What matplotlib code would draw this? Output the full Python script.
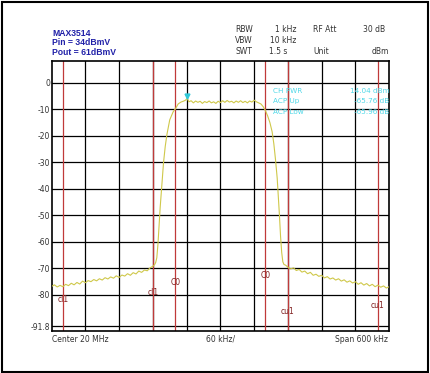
import matplotlib
matplotlib.use('Agg')
import matplotlib.pyplot as plt
from matplotlib.patches import Rectangle

# frequency offset from 20 MHz centre (kHz) and measured level (dBm)
left_freq = [-300, -295, -290, -285, -280, -275, -270, -265, -260, -255, -250, -245,
             -240, -235, -230, -225, -220, -215, -210, -205, -200, -195, -190, -185,
             -180, -175, -170, -165, -160, -155, -150, -145, -140, -135, -130, -125,
             -120, -117, -115, -113, -111]
left_level = [-76.8, -76.2, -77.0, -76.4, -76.9, -76.0, -76.5, -75.6, -76.2, -75.3, -75.9, -74.8,
              -75.4, -74.6, -75.0, -74.2, -74.7, -73.9, -74.4, -73.5, -74.0, -73.2, -73.7, -72.8,
              -73.4, -72.5, -72.9, -72.0, -72.6, -71.6, -72.1, -71.0, -71.5, -70.6, -70.9, -69.8,
              -69.2, -68.6, -67.8, -66.0, -61.0]
rise_freq = [-109, -107, -104.6, -101, -98, -95, -90, -84, -79, -75, -70]
rise_level = [-54.0, -47.0, -40.0, -30.0, -24.0, -19.5, -14.0, -11.0, -9.5, -8.0, -7.3]
top_freq = [-66, -62, -59, -56, -52, -48, -44, -40, -36, -32, -28, -24, -20, -16, -12, -8,
            -4, 0, 4, 8, 12, 16, 20, 24, 28, 32, 36, 40, 44, 48, 52, 56, 60, 64, 68]
top_level = [-7.0, -6.6, -5.9, -7.2, -6.8, -7.6, -6.9, -7.4, -7.0, -7.8, -7.1, -7.5, -6.9, -7.6,
             -7.2, -7.8, -7.0, -7.5, -6.8, -7.4, -6.7, -7.3, -7.0, -7.6, -6.9, -7.4, -6.8, -7.5,
             -7.0, -7.6, -6.9, -7.3, -6.6, -7.2, -7.6]
fall_freq = [72, 76, 80, 84, 88, 92, 95, 98, 101, 103, 105, 107, 109, 111, 113, 116, 120]
fall_level = [-8.0, -9.0, -10.5, -12.5, -15.0, -18.5, -23.0, -29.0, -36.0, -43.0, -50.0, -58.0,
              -64.0, -67.5, -68.5, -68.8, -69.5]
right_freq = [125, 130, 135, 140, 145, 150, 155, 160, 165, 170, 175, 180, 185, 190, 195, 200,
              205, 210, 215, 220, 225, 230, 235, 240, 245, 250, 255, 260, 265, 270, 275, 280,
              285, 290, 295, 300]
right_level = [-70.2, -69.8, -70.8, -70.4, -71.4, -71.0, -72.0, -71.5, -72.6, -72.2, -73.0, -72.6,
               -73.6, -73.1, -74.0, -73.6, -74.4, -73.9, -74.8, -74.3, -75.2, -74.7, -75.5, -75.0,
               -76.0, -75.4, -76.3, -75.7, -76.6, -76.0, -76.9, -76.3, -77.1, -76.6, -77.4, -76.9]

# channel limit lines (kHz) and their labels
limit_freq = [-280, -120, -80, 80, 120, 280]
limit_names = ['cl1', 'cl1', 'C0', 'C0', 'cu1', 'cu1']
limit_label_y = [-81.8, -79.0, -75.3, -72.7, -86.2, -84.0]

peak_freq = -59
peak_level = -5.2

ytick_vals = [0, -10, -20, -30, -40, -50, -60, -70, -80, -91.8]
ytick_text = ['0', '-10', '-20', '-30', '-40', '-50', '-60', '-70', '-80', '-91.8']

acp_names = ['CH PWR', 'ACP Up', 'ACP Low']
acp_values = ['14.04 dBm', '-65.76 dB', '-65.96 dB']

freq = left_freq + rise_freq + top_freq + fall_freq + right_freq
level = left_level + rise_level + top_level + fall_level + right_level

fig = plt.figure(figsize=(4.3, 3.73), dpi=100)
fig.patch.set_facecolor('white')
fig.patches.append(Rectangle((0.004, 0.004), 0.992, 0.99, transform=fig.transFigure,
                             fill=False, ec='black', lw=1.5))

ax = fig.add_axes([0.120, 0.1126, 0.785, 0.724])
ax.set_xlim(-300, 300)
ax.set_ylim(-93.6, 8.2)

# graticule
for gx in range(-240, 300, 60):
    ax.axvline(gx, color='black', lw=0.9, zorder=1)
for gy in ytick_vals:
    ax.axhline(gy, color='black', lw=0.9, zorder=1)

for lf, name, ly in zip(limit_freq, limit_names, limit_label_y):
    ax.axvline(lf, color='#c03a3a', lw=0.9, zorder=2)
    ax.text(lf, ly, name, color='#802020', fontsize=5.5, ha='center', va='center', zorder=4)

ax.plot(freq, level, color='#cfc84a', lw=0.8, zorder=3)
ax.plot([peak_freq], [peak_level], marker='v', color='#30c8d8', markersize=3.5, zorder=4)

for i, (nm, val) in enumerate(zip(acp_names, acp_values)):
    yy = -3.0 - 4.0 * i
    ax.text(-20 + 114, yy, nm, color='#50d8e8', fontsize=5.2, va='center', zorder=4)
    ax.text(300, yy, val, color='#50d8e8', fontsize=5.2, va='center', ha='right', zorder=4)

ax.set_xticks([])
ax.set_yticks(ytick_vals)
ax.set_yticklabels(ytick_text, fontsize=5.5, color='#333333')
ax.tick_params(axis='y', length=0, pad=1)
for sp in ax.spines.values():
    sp.set_linewidth(1.2)

# annotation text around the plot
title_kw = dict(color='#2020a8', fontsize=6.2, fontweight='bold',
                family='Liberation Sans', va='center')
fig.text(0.121, 0.911, 'MAX3514', **title_kw)
fig.text(0.121, 0.886, 'Pin = 34dBmV', **title_kw)
fig.text(0.121, 0.860, 'Pout = 61dBmV', **title_kw)

hdr = dict(fontsize=5.5, color='#333333', va='center')
fig.text(0.547, 0.921, 'RBW', **hdr)
fig.text(0.690, 0.921, '1 kHz', ha='right', **hdr)
fig.text(0.728, 0.921, 'RF Att', **hdr)
fig.text(0.895, 0.921, '30 dB', ha='right', **hdr)
fig.text(0.547, 0.892, 'VBW', **hdr)
fig.text(0.690, 0.892, '10 kHz', ha='right', **hdr)
fig.text(0.547, 0.861, 'SWT', **hdr)
fig.text(0.625, 0.861, '1.5 s', **hdr)
fig.text(0.728, 0.861, 'Unit', **hdr)
fig.text(0.905, 0.861, 'dBm', ha='right', **hdr)

fig.text(0.121, 0.090, 'Center 20 MHz', **hdr)
fig.text(0.512, 0.090, '60 kHz/', ha='center', **hdr)
fig.text(0.903, 0.090, 'Span 600 kHz', ha='right', **hdr)

fig.savefig('out.png', dpi=100)
